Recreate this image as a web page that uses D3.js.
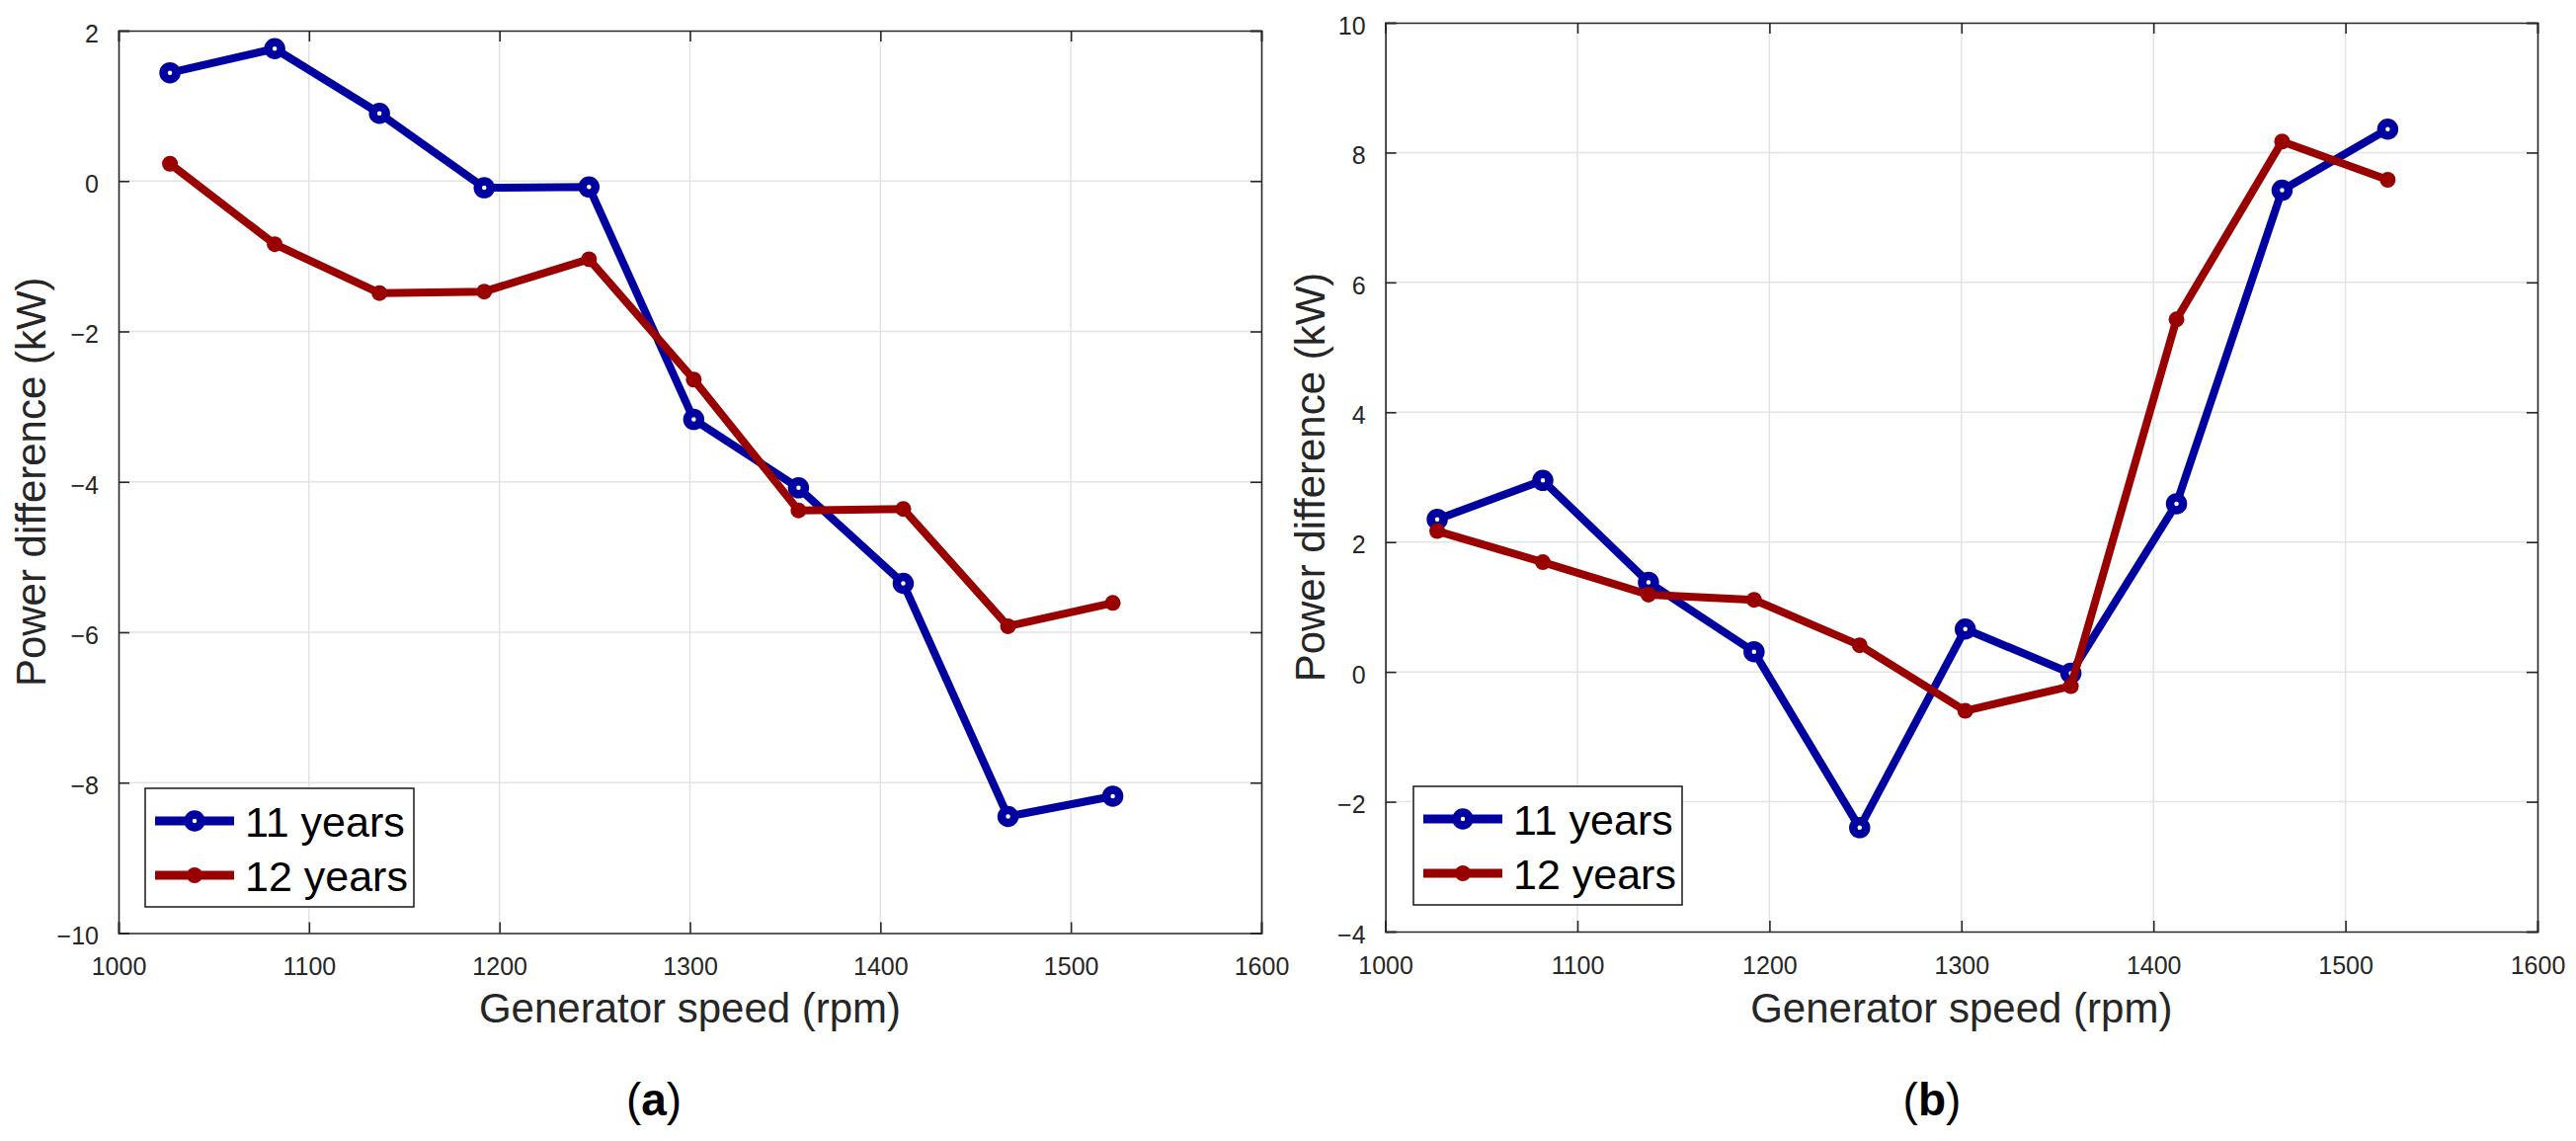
<!DOCTYPE html>
<html lang="en">
<head>
<meta charset="UTF-8">
<title>Power difference vs generator speed</title>
<script src="https://d3js.org/d3.v7.min.js"></script>
<style>
  body { margin: 0; background: #fff; }
  text { font-family: "Liberation Sans", Arial, Helvetica, sans-serif; }
  .grid line { stroke: #e3e3e3; stroke-width: 1.5; }
</style>
</head>
<body>
<svg id="fig" width="2608" height="1155"></svg>
<script>
// data
const speed = [1027, 1082, 1137, 1192, 1247, 1302, 1357, 1412, 1467, 1522];
const years11A = [1.44, 1.76, 0.90, -0.09, -0.08, -3.17, -4.08, -5.35, -8.45, -8.18];
const years12A = [0.23, -0.84, -1.49, -1.47, -1.04, -2.64, -4.38, -4.36, -5.92, -5.61];
const years11B = [2.35, 2.95, 1.38, 0.31, -2.40, 0.66, -0.02, 2.59, 7.42, 8.36];
const years12B = [2.17, 1.69, 1.19, 1.11, 0.41, -0.60, -0.22, 5.43, 8.17, 7.58];
const xTicks = [1000, 1100, 1200, 1300, 1400, 1500, 1600];
const yTicksA = [-10, -8, -6, -4, -2, 0, 2];
const yTicksB = [-4, -2, 0, 2, 4, 6, 8, 10];
const seriesNames = ["11 years", "12 years"];

const blue = "#0000a0";
const red = "#990000";
const ink = "#262626";

const svg = d3.select("#fig");

function drawPanel(p) {
    const x = d3.scaleLinear().domain([1000, 1600]).range([p.left, p.right]);
    const y = d3.scaleLinear().domain(p.yDomain).range([p.bottom, p.top]);
    const g = svg.append("g");

    // grid
    const grid = g.append("g").attr("class", "grid");
    grid.selectAll(".gx").data(xTicks.slice(1, -1)).enter().append("line")
        .attr("x1", d => x(d)).attr("x2", d => x(d))
        .attr("y1", p.top).attr("y2", p.bottom);
    grid.selectAll(".gy").data(p.yTicks.slice(1, -1)).enter().append("line")
        .attr("y1", d => y(d)).attr("y2", d => y(d))
        .attr("x1", p.left).attr("x2", p.right);

    // axes, ticks pointing inward like matlab
    const tk = 11;
    const bottom = g.append("g").attr("transform", `translate(0,${p.bottom})`)
        .call(d3.axisBottom(x).tickValues(xTicks).tickSize(-tk).tickPadding(tk + 14).tickFormat(d3.format("d")));
    const top = g.append("g").attr("transform", `translate(0,${p.top})`)
        .call(d3.axisTop(x).tickValues(xTicks).tickSize(-tk).tickFormat(""));
    const left = g.append("g").attr("transform", `translate(${p.left},0)`)
        .call(d3.axisLeft(y).tickValues(p.yTicks).tickSize(-tk).tickPadding(tk + 9));
    const right = g.append("g").attr("transform", `translate(${p.right},0)`)
        .call(d3.axisRight(y).tickValues(p.yTicks).tickSize(-tk).tickFormat(""));
    [bottom, top, left, right].forEach(a => {
        a.select(".domain").attr("stroke", ink).attr("stroke-width", 1.6);
        a.selectAll(".tick line").attr("stroke", ink).attr("stroke-width", 1.6);
        a.selectAll(".tick text").attr("fill", ink).attr("font-size", 25)
            .attr("font-family", "'Liberation Sans', Arial, sans-serif");
    });
    bottom.selectAll(".tick text").attr("dy", "0.71em");
    left.selectAll(".tick text").attr("dy", "0.45em");

    // axis labels
    g.append("text")
        .attr("x", (p.left + p.right) / 2).attr("y", 1035)
        .attr("text-anchor", "middle").attr("font-size", 42).attr("fill", ink)
        .text("Generator speed (rpm)");
    g.append("text")
        .attr("transform", `translate(${p.left - p.ylabelGap},${(p.top + p.bottom) / 2}) rotate(-90)`)
        .attr("text-anchor", "middle").attr("font-size", 42).attr("fill", ink)
        .text("Power difference (kW)");

    // series
    const line = d3.line().x((d, i) => x(speed[i])).y(d => y(d));
    const series = [
        { vals: p.s11, color: blue, marker: "o" },
        { vals: p.s12, color: red, marker: "dot" }
    ];
    series.forEach(s => {
        g.append("path").datum(s.vals)
            .attr("fill", "none").attr("stroke", s.color).attr("stroke-width", 8)
            .attr("stroke-linejoin", "round").attr("d", line);
        drawMarkers(g, s, s.vals.map((v, i) => [x(speed[i]), y(v)]));
    });

    // legend
    const lg = g.append("g").attr("transform", `translate(${p.legend[0]},${p.legend[1]})`);
    lg.append("rect").attr("width", 272).attr("height", 120)
        .attr("fill", "#fff").attr("stroke", ink).attr("stroke-width", 1.6);
    series.forEach((s, i) => {
        const ly = 33 + i * 55;
        lg.append("line").attr("x1", 10).attr("x2", 90).attr("y1", ly).attr("y2", ly)
            .attr("stroke", s.color).attr("stroke-width", 9);
        drawMarkers(lg, s, [[50, ly]]);
        lg.append("text").attr("x", 101).attr("y", ly + 16)
            .attr("font-size", 43).attr("fill", "#000").text(seriesNames[i]);
    });

    // panel caption
    const cap = svg.append("text").attr("x", p.captionX).attr("y", 1129)
        .attr("text-anchor", "middle").attr("font-size", 46)
        .attr("font-family", "'Liberation Serif', 'DejaVu Serif', serif").attr("fill", "#000");
    cap.append("tspan").text("(");
    cap.append("tspan").attr("font-weight", "bold").text(p.caption);
    cap.append("tspan").text(")");
}

function drawMarkers(g, s, pts) {
    if (s.marker === "o") {
        g.selectAll(null).data(pts).enter().append("circle")
            .attr("cx", d => d[0]).attr("cy", d => d[1]).attr("r", 6.5)
            .attr("fill", "#fff").attr("stroke", s.color).attr("stroke-width", 8.5);
    } else {
        g.selectAll(null).data(pts).enter().append("circle")
            .attr("cx", d => d[0]).attr("cy", d => d[1]).attr("r", 8)
            .attr("fill", s.color);
    }
}

drawPanel({
    left: 120, right: 1277, top: 31, bottom: 944.5,
    yDomain: [-10, 2], yTicks: yTicksA, ylabelGap: 74,
    s11: years11A, s12: years12A,
    legend: [147, 798], caption: "a", captionX: 662
});
drawPanel({
    left: 1402.6, right: 2569, top: 23, bottom: 943,
    yDomain: [-4, 10], yTicks: yTicksB, ylabelGap: 62,
    s11: years11B, s12: years12B,
    legend: [1431, 796], caption: "b", captionX: 1956
});
</script>
</body>
</html>
